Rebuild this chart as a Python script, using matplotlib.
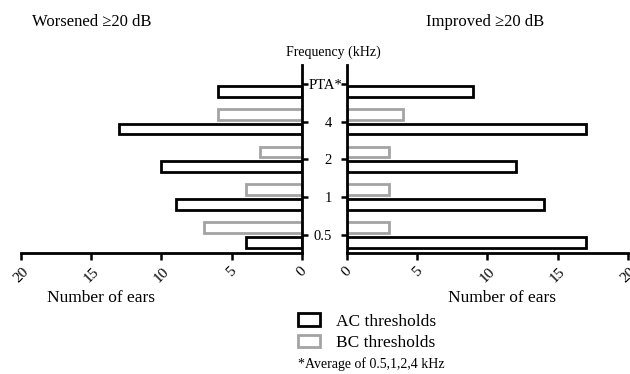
import numpy as np
import matplotlib.pyplot as plt
import matplotlib.transforms as mtransforms
from matplotlib.patches import Patch

plt.rcParams['font.family'] = ['Liberation Serif', 'DejaVu Serif']

freqs = ["0.5", "1", "2", "4", "PTA*"]
# worsened >=20 dB
worse_ac = [4, 9, 10, 13, 6]
worse_bc = [7, 4, 3, 6, 0]
# improved >=20 dB
impr_ac = [17, 14, 12, 17, 9]
impr_bc = [3, 3, 3, 4, 0]

ypos = np.arange(len(freqs))
ac_col = "black"
bc_col = "#a3a3a3"
h = 0.29

fig = plt.figure(figsize=(6.3, 3.74), dpi=100)
axl = fig.add_axes([0.0333, 0.3235, 0.446, 0.5027])
axr = fig.add_axes([0.5508, 0.3235, 0.446, 0.5027])

def draw(ax, ac, bc):
    ac = np.array(ac, dtype=float)
    bc = np.array(bc, dtype=float)
    bc[bc == 0] = np.nan
    ax.barh(ypos - 0.05 - h/2, ac, height=h, color="white", edgecolor=ac_col, linewidth=2)
    ax.barh(ypos + 0.05 + h/2, bc, height=h, color="white", edgecolor=bc_col, linewidth=2)
    ax.set_ylim(-0.48, 4.5)
    ax.set_xticks([0, 5, 10, 15, 20])
    ax.tick_params(axis='x', labelrotation=45, labelsize=11, width=1.8, length=5)
    ax.tick_params(axis='y', width=1.8, length=4)
    for lab in ax.get_xticklabels():
        lab.set_ha('center')
    ax.spines['top'].set_visible(False)
    ax.spines['bottom'].set_linewidth(2)

draw(axl, worse_ac, worse_bc)
axl.set_xlim(20, 0)
axl.spines['left'].set_visible(False)
axl.spines['right'].set_linewidth(2)
axl.yaxis.tick_right()
axl.set_yticks(ypos)
axl.set_yticklabels([])

draw(axr, impr_ac, impr_bc)
axr.set_xlim(0, 20)
axr.spines['right'].set_visible(False)
axr.spines['left'].set_linewidth(2)
axr.set_yticks(ypos)
axr.set_yticklabels(freqs, fontsize=10.5)
axr.tick_params(axis='y', pad=7)
# the asterisk label sits closer to the axis in the original
pta = axr.get_yticklabels()[-1]
pta.set_transform(pta.get_transform() + mtransforms.ScaledTranslation(8/72, 0, fig.dpi_scale_trans))

fig.text(0.145, 0.94, "Worsened ≥20 dB", fontsize=12, ha='center', va='center')
fig.text(0.77, 0.94, "Improved ≥20 dB", fontsize=12, ha='center', va='center')
fig.text(0.529, 0.86, "Frequency (kHz)", fontsize=10, ha='center', va='center')
fig.text(0.16, 0.203, "Number of ears", fontsize=12.5, ha='center', va='center')
fig.text(0.797, 0.203, "Number of ears", fontsize=12.5, ha='center', va='center')

handles = [Patch(facecolor="white", edgecolor=ac_col, linewidth=2, label="AC thresholds"),
           Patch(facecolor="white", edgecolor=bc_col, linewidth=2, label="BC thresholds")]
fig.legend(handles=handles, loc='upper left', bbox_to_anchor=(0.459, 0.185), frameon=False,
           fontsize=12.5, handlelength=1.3, handleheight=0.7, labelspacing=0.3, borderpad=0,
           handletextpad=0.9)
fig.text(0.473, 0.027, "*Average of 0.5,1,2,4 kHz", fontsize=10, ha='left', va='center')

fig.savefig("out.png", dpi=100)
